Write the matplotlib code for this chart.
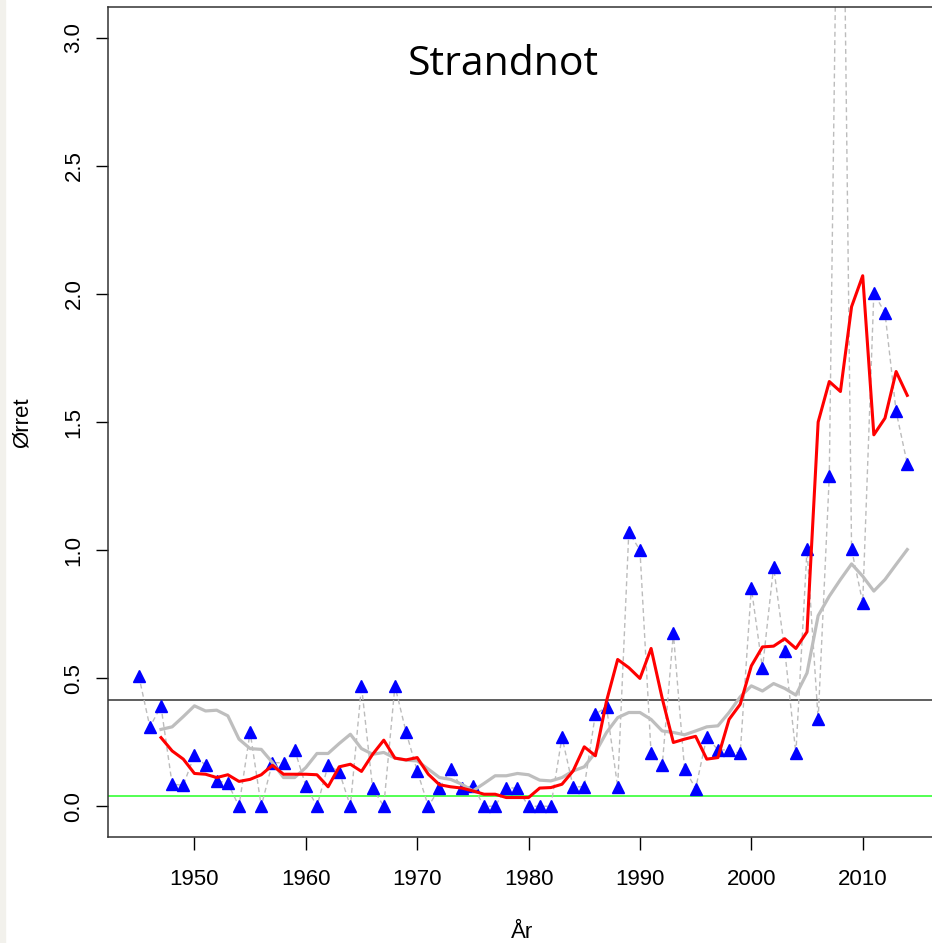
import matplotlib
matplotlib.use("Agg")
import matplotlib.pyplot as plt
from matplotlib.patches import Rectangle

# years and catch per unit (Ørret, Strandnot)
years = list(range(1945, 2015))
catch = [0.51, 0.31, 0.39, 0.086, 0.082, 0.20, 0.16, 0.10, 0.09, 0.0,
         0.29, 0.0, 0.17, 0.17, 0.22, 0.08, 0.0, 0.16, 0.135, 0.0,
         0.47, 0.07, 0.0, 0.47, 0.29, 0.138, 0.0, 0.07, 0.147, 0.07,
         0.08, 0.0, 0.0, 0.073, 0.07, 0.0, 0.0, 0.0, 0.27, 0.076,
         0.076, 0.36, 0.387, 0.075, 1.07, 1.0, 0.206, 0.16, 0.675, 0.147,
         0.069, 0.271, 0.22, 0.22, 0.206, 0.853, 0.538, 0.935, 0.608, 0.206,
         1.003, 0.339, 1.29, 4.7, 1.003, 0.795, 2.003, 1.926, 1.541, 1.337]

# smoothed series start in 1947
smooth_years = list(range(1947, 2015))
red_smooth = [0.268, 0.216, 0.184, 0.128, 0.125, 0.112, 0.123, 0.097, 0.105, 0.123,
              0.160, 0.125, 0.125, 0.125, 0.123, 0.076, 0.154, 0.164, 0.136, 0.203,
              0.258, 0.188, 0.181, 0.190, 0.125, 0.084, 0.076, 0.071, 0.060, 0.047,
              0.047, 0.034, 0.034, 0.034, 0.071, 0.073, 0.086, 0.138, 0.232, 0.197,
              0.411, 0.573, 0.541, 0.499, 0.616, 0.421, 0.249, 0.262, 0.273, 0.184,
              0.190, 0.339, 0.398, 0.548, 0.622, 0.625, 0.654, 0.616, 0.681, 1.50,
              1.658, 1.619, 1.95, 2.071, 1.45, 1.515, 1.697, 1.604]
grey_smooth = [0.30, 0.31, 0.35, 0.392, 0.372, 0.375, 0.353, 0.262, 0.225, 0.222,
               0.171, 0.112, 0.112, 0.151, 0.206, 0.206, 0.245, 0.281, 0.225, 0.203,
               0.21, 0.188, 0.18, 0.177, 0.145, 0.112, 0.105, 0.086, 0.06, 0.089,
               0.119, 0.119, 0.128, 0.123, 0.102, 0.099, 0.112, 0.138, 0.154, 0.21,
               0.288, 0.346, 0.366, 0.366, 0.339, 0.294, 0.288, 0.279, 0.294, 0.31,
               0.314, 0.366, 0.427, 0.47, 0.45, 0.479, 0.46, 0.434, 0.52, 0.744,
               0.82, 0.885, 0.946, 0.898, 0.84, 0.885, 0.944, 1.002]

level_black = 0.415
level_green = 0.039

y_ticks = [0.0, 0.5, 1.0, 1.5, 2.0, 2.5, 3.0]
x_ticks = [1950, 1960, 1970, 1980, 1990, 2000, 2010]

plt.rcParams['font.family'] = ['Liberation Sans', 'DejaVu Sans']

fig = plt.figure(figsize=(9.32, 9.43), dpi=100)
fig.patches.append(Rectangle((0, 0), 5 / 932, 1, transform=fig.transFigure,
                             color='#f2f1ec', zorder=0))

ax = fig.add_axes([108 / 932, 106 / 943, 830 / 932, 830 / 943])

ax.axhline(level_black, color='#333333', lw=1.1, zorder=1)
ax.axhline(level_green, color='#44ff44', lw=1.3, zorder=1)

ax.plot(years, catch, color='#bcbcbc', lw=1.0, dashes=(3.5, 2.5), zorder=2)
ax.plot(years, catch, ls='none', marker='^', ms=8.5, color='#0000ff', zorder=3)
ax.plot(smooth_years, grey_smooth, color='#bebebe', lw=2.3, zorder=4)
ax.plot(smooth_years, red_smooth, color='#ff0000', lw=2.2, zorder=5)

ax.set_xlim(1942.24, 2016.76)
ax.set_ylim(-0.12, 3.12)
ax.set_xticks(x_ticks)
ax.set_yticks(y_ticks)
ax.set_yticklabels(['%.1f' % v for v in y_ticks], rotation=90, va='center')
ax.tick_params(axis='both', direction='out', length=9, width=1, labelsize=16)
ax.tick_params(axis='x', pad=14)
ax.tick_params(axis='y', pad=8)
for s in ax.spines.values():
    s.set_linewidth(1.1)
    s.set_color('#333333')

fig.text(22 / 932, 1 - 423 / 943, 'Ørret', rotation=90, fontsize=16,
         ha='center', va='center')
fig.text(522 / 932, 1 - 932 / 943, 'År', fontsize=16, ha='center', va='center')
fig.text(503 / 932, 1 - 75 / 943, 'Strandnot', fontsize=29.5,
         family=['Open Sans', 'DejaVu Sans'], ha='center', va='baseline')

fig.savefig('out.png', dpi=100)
